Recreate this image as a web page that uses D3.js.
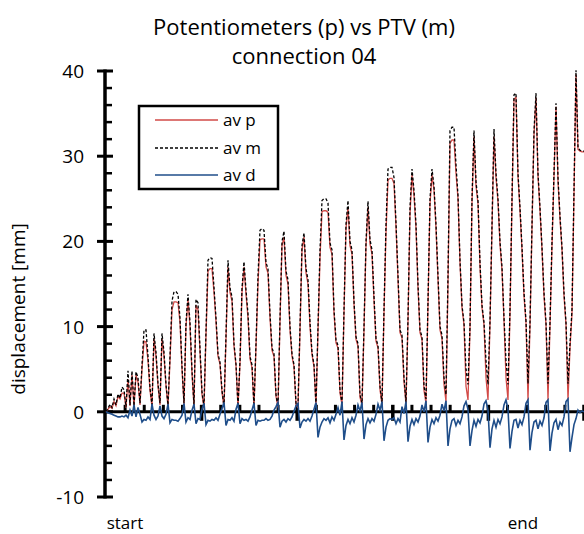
<!DOCTYPE html>
<html>
<head>
<meta charset="utf-8">
<script src="https://cdn.jsdelivr.net/npm/d3@7"></script>
<style>
    body { margin: 0; background: #fff; }
    svg text { font-family: 'Open Sans', 'DejaVu Sans', sans-serif; fill: #000; }
</style>
</head>
<body>
<svg id="chart" width="584" height="534"></svg>
<script>
/* Potentiometers vs PTV, connection 04 */

// av m (PTV), one value per sample
const avM = [
    0, 0.4, 0.9, 0.5, 1.5, 0.8, 2.1, 1.6, 2.9, 2.6,
    0.6, 4.8, 0.8, 4.8, 0.7, 4.7, 4.0, 1.0, 5.5, 9.6,
    9.6, 6.5, 2.8, 0.8, 9.2, 7.0, 3.3, 1.0, 9.2, 7.0,
    3.2, 0.8, 6.5, 13.0, 14.1, 14.1, 13.8, 11.0, 5.3, 1.0,
    10.5, 13.8, 10.5, 4.8, 0.8, 13.2, 12.8, 7.4, 2.3, 0.7,
    9.5, 17.8, 18.1, 18.0, 14.6, 11.0, 6.8, 5.8, 2.5, 0.6,
    9.0, 17.8, 14.5, 13.5, 8.0, 5.6, 0.6, 6.0, 14.5, 17.6,
    14.3, 11.5, 6.5, 5.5, 0.6, 8.0, 16.0, 21.3, 21.5, 21.3,
    17.5, 16.8, 11.5, 7.5, 6.8, 2.0, 0.6, 11.0, 20.0, 21.2,
    16.5, 15.5, 10.0, 6.8, 5.5, 1.0, 0.7, 10.0, 19.5, 21.0,
    16.8, 15.5, 10.5, 7.0, 5.5, 0.8, 10.0, 19.0, 24.8, 25.0,
    25.0, 24.5, 19.8, 19.0, 12.0, 8.4, 7.8, 2.5, 1.0, 12.0,
    22.0, 24.8, 20.0, 19.0, 13.0, 8.8, 8.0, 2.0, 1.0, 10.0,
    20.0, 24.7, 20.2, 19.0, 13.5, 8.6, 7.8, 3.0, 1.0, 12.0,
    22.0, 28.5, 28.7, 28.7, 27.5, 22.2, 16.0, 9.6, 9.0, 4.0,
    1.1, 11.0, 24.0, 28.5, 26.0, 22.0, 15.0, 9.6, 8.8, 3.0,
    1.5, 13.0, 25.0, 28.5, 26.5, 22.0, 16.0, 10.0, 9.0, 4.0,
    2.0, 16.0, 33.0, 33.4, 33.4, 29.0, 25.4, 17.8, 12.5, 10.5,
    5.0, 3.2, 10.0, 25.0, 33.0, 27.0, 24.8, 17.5, 12.5, 10.5,
    6.0, 3.2, 10.7, 22.0, 33.2, 28.0, 25.0, 20.0, 17.0, 11.0,
    6.0, 3.2, 12.0, 25.0, 37.2, 37.4, 28.0, 24.0, 19.3, 14.0,
    10.7, 3.3, 10.5, 22.0, 33.0, 37.4, 28.0, 24.0, 19.3, 14.0,
    10.5, 3.3, 10.5, 20.0, 28.0, 36.2, 27.5, 23.0, 19.3, 14.0,
    10.5, 3.3, 8.0, 12.0, 26.0, 40.1, 31.0, 30.7, 30.6, 30.6
];

// av p (potentiometers)
const avP = [
    0, 0.3, 0.6, 0.4, 1.2, 0.7, 1.8, 1.5, 2.2, 2.2,
    0.5, 3.8, 0.7, 4.3, 0.6, 4.3, 3.5, 0.8, 5.0, 8.3,
    8.2, 6.0, 2.5, 0.6, 8.6, 6.5, 3.0, 0.8, 8.6, 6.5,
    3.0, 0.6, 6.0, 12.0, 12.9, 12.9, 12.8, 10.5, 5.0, 0.8,
    10.0, 13.2, 10.0, 4.5, 0.6, 12.5, 12.0, 7.0, 2.0, 0.5,
    9.0, 16.5, 16.8, 16.8, 14.0, 10.6, 6.5, 5.6, 2.3, 0.5,
    8.6, 17.0, 14.0, 13.0, 7.7, 5.4, 0.5, 5.7, 14.0, 17.0,
    13.8, 11.0, 6.2, 5.2, 0.5, 7.6, 15.0, 20.2, 20.3, 20.3,
    17.0, 16.3, 11.0, 7.2, 6.5, 1.8, 0.5, 10.5, 19.5, 20.5,
    16.0, 15.0, 9.6, 6.5, 5.3, 0.8, 0.5, 9.5, 19.0, 20.5,
    16.3, 15.0, 10.0, 6.7, 5.3, 0.6, 9.5, 18.0, 23.5, 23.6,
    23.6, 23.4, 19.3, 18.5, 11.6, 8.1, 7.5, 2.2, 0.8, 11.5,
    21.5, 24.0, 19.5, 18.5, 12.6, 8.5, 7.7, 1.7, 0.8, 9.5,
    19.5, 24.0, 19.7, 18.5, 13.0, 8.3, 7.5, 2.6, 0.8, 11.5,
    21.0, 27.2, 27.4, 27.4, 26.8, 21.7, 15.5, 9.3, 8.7, 3.5,
    0.9, 10.5, 23.2, 27.8, 25.4, 21.5, 14.5, 9.3, 8.5, 2.5,
    1.0, 12.5, 24.4, 27.8, 26.0, 21.5, 15.5, 9.6, 8.6, 3.2,
    1.2, 15.0, 31.5, 31.9, 31.9, 28.0, 25.0, 17.5, 12.2, 10.2,
    3.0, 1.4, 9.6, 24.5, 32.3, 26.5, 24.4, 17.0, 12.2, 10.2,
    4.0, 1.4, 10.3, 21.5, 32.3, 27.5, 24.6, 19.6, 16.6, 10.7,
    4.0, 1.4, 11.5, 24.5, 36.7, 36.9, 27.6, 23.6, 19.0, 13.6,
    10.4, 1.4, 10.0, 21.5, 32.5, 36.9, 27.6, 23.6, 19.0, 13.6,
    10.2, 1.4, 10.0, 19.5, 27.5, 35.8, 27.0, 22.6, 19.0, 13.6,
    10.2, 1.4, 7.5, 11.5, 25.5, 39.6, 30.8, 30.6, 30.5, 30.5
];

// av d
const avD = [
    0, -0.1, -0.2, -0.3, -0.4, -0.5, -0.6, -0.6, -0.5, -0.6,
    -0.4, -0.7, 0.2, -0.5, 0.8, -0.6, 0.5, -0.3, -1.2, -0.9,
    -1.0, -0.6, -0.9, 0.9, -0.4, -0.9, -0.5, 0.7, -0.5, -0.8,
    -0.3, 0.9, -1.3, -0.9, -1.0, -1.0, -1.1, -0.8, -0.4, 1.0,
    -1.2, -0.7, -0.9, 0.2, 0.9, -1.4, -0.8, -0.9, 0.3, 1.0,
    -1.5, -1.0, -1.1, -0.9, -1.0, -0.7, -1.0, -0.3, 0.4, 1.1,
    -1.6, -0.9, -1.0, -0.7, -1.1, 0.3, 1.0, -1.4, -0.8, -1.0,
    -0.9, -1.1, -0.6, 0.2, 1.0, -1.6, -1.0, -1.1, -1.0, -1.0,
    -0.8, -1.0, -0.9, -0.5, 0.2, 0.6, 1.1, -1.8, -1.1, -0.9,
    -1.2, -0.8, -1.0, -0.6, 0.1, 0.7, 1.0, -1.9, -1.2, -0.9,
    -1.1, -0.8, -1.1, -0.5, 0.3, 1.1, -3.0, -1.8, -1.2, -0.8,
    -1.0, -0.7, -1.3, -0.6, -1.0, -0.3, 0.5, -0.4, 1.2, -3.3,
    -1.6, -0.9, -1.4, -0.7, -1.2, -0.4, 0.8, 0.1, 1.1, -3.2,
    -1.5, -0.8, -1.3, -0.8, -1.1, -0.3, 0.9, 0.2, 1.2, -3.4,
    -1.8, -1.0, -0.8, -0.9, -0.7, -1.4, -0.8, -1.2, 0.6, -0.2,
    1.2, -3.5, -1.7, -0.9, -1.5, -0.8, -1.2, -0.5, 0.8, 0.0,
    1.3, -3.6, -1.8, -0.9, -1.4, -0.7, -1.1, -0.4, 0.9, 0.1,
    1.3, -4.0, -2.0, -1.0, -0.8, -1.6, -1.0, -1.4, -0.6, 0.7,
    1.2, 0.3, -4.0, -2.2, -1.0, -1.7, -0.9, -1.3, -0.5, 0.9,
    1.3, 0.2, -4.2, -2.0, -1.0, -1.8, -0.9, -1.4, -0.6, 0.8,
    1.4, 0.3, -4.3, -2.3, -1.0, -0.9, -1.9, -1.0, -1.5, -0.6,
    1.0, 1.4, -4.5, -2.4, -1.2, -1.0, -2.0, -1.1, -1.6, -0.7,
    1.1, 1.4, -4.6, -2.5, -1.3, -0.9, -2.1, -1.2, -1.6, -0.6,
    1.2, 1.5, -4.7, -3.0, -1.5, -0.8, 0.2, -0.1, 0.1, 0.0
];

const yTicks = [-10, 0, 10, 20, 30, 40];
const xLabels = ['start', 'end'];
const xLabelAt = [9.5, 208.5];   // sample index under each category label
const seriesNames = ['av p', 'av m', 'av d'];

const svg = d3.select('#chart');
const n = avM.length;

const x = d3.scaleLinear().domain([0, n - 1]).range([106, 584]);
const y = d3.scaleLinear().domain([-10, 40]).range([497, 71]);

// Title
svg.append('text')
    .attr('x', 304).attr('y', 35)
    .attr('text-anchor', 'middle')
    .attr('font-size', 22)
    .text('Potentiometers (p) vs PTV (m)');
svg.append('text')
    .attr('x', 304).attr('y', 64)
    .attr('text-anchor', 'middle')
    .attr('font-size', 22)
    .text('connection 04');

// Y axis title
svg.append('text')
    .attr('transform', 'translate(25,309) rotate(-90)')
    .attr('text-anchor', 'middle')
    .attr('font-size', 19)
    .text('displacement [mm]');

// Y axis: thick line, crossing major ticks, inside minor ticks
const yAxis = svg.append('g');
yAxis.append('line')
    .attr('x1', 105).attr('x2', 105)
    .attr('y1', y(40) - 1.5).attr('y2', y(-10) + 1.5)
    .attr('stroke', '#000').attr('stroke-width', 3.5);
yAxis.selectAll('.major')
    .data(yTicks)
    .join('line')
    .attr('x1', 97).attr('x2', 113)
    .attr('y1', d => y(d)).attr('y2', d => y(d))
    .attr('stroke', '#000').attr('stroke-width', 3);
yAxis.selectAll('.minor')
    .data(d3.range(-10, 40, 2).filter(v => v % 10 !== 0))
    .join('line')
    .attr('x1', 105).attr('x2', 112)
    .attr('y1', d => y(d)).attr('y2', d => y(d))
    .attr('stroke', '#000').attr('stroke-width', 2.5);
yAxis.selectAll('text')
    .data(yTicks)
    .join('text')
    .attr('x', 84).attr('y', d => y(d) + 7)
    .attr('text-anchor', 'end')
    .attr('font-size', 19)
    .text(d => d);

// X axis at zero
const xAxis = svg.append('g');
xAxis.append('line')
    .attr('x1', 105).attr('x2', 584)
    .attr('y1', y(0)).attr('y2', y(0))
    .attr('stroke', '#000').attr('stroke-width', 3);
const xStep = (584 - 106) / 25;
xAxis.selectAll('line.tk')
    .data(d3.range(1, 26))
    .join('line')
    .attr('class', 'tk')
    .attr('x1', d => 106 + d * xStep).attr('x2', d => 106 + d * xStep)
    .attr('y1', y(0) - 7)
    .attr('y2', d => d % 5 === 0 ? y(0) + 9 : y(0))
    .attr('stroke', '#000')
    .attr('stroke-width', d => d % 5 === 0 ? 3.5 : 3);

svg.selectAll('.xlab')
    .data(xLabels)
    .join('text')
    .attr('class', 'xlab')
    .attr('x', (d, i) => x(xLabelAt[i]))
    .attr('y', 529)
    .attr('text-anchor', 'middle')
    .attr('font-size', 17)
    .text(d => d);

// Series
const line = d3.line()
    .x((d, i) => x(i))
    .y(d => y(d));

const plot = svg.append('g');
plot.append('path')
    .datum(avP)
    .attr('d', line)
    .attr('fill', 'none')
    .attr('stroke', '#d24a47')
    .attr('stroke-width', 1.3);
plot.append('path')
    .datum(avM)
    .attr('d', line)
    .attr('fill', 'none')
    .attr('stroke', '#000')
    .attr('stroke-width', 1.3)
    .attr('stroke-dasharray', '3,2');
plot.append('path')
    .datum(avD)
    .attr('d', line)
    .attr('fill', 'none')
    .attr('stroke', '#1f4e8a')
    .attr('stroke-width', 1.6);

// Legend
const legend = svg.append('g');
legend.append('rect')
    .attr('x', 139).attr('y', 106)
    .attr('width', 139).attr('height', 83)
    .attr('fill', '#fff')
    .attr('stroke', '#000').attr('stroke-width', 2.5);

const legendStyles = [
    { color: '#d24a47', dash: null, width: 1.3 },
    { color: '#000', dash: '3,2', width: 1.3 },
    { color: '#1f4e8a', dash: null, width: 1.6 }
];
const rowY = [120, 148, 175];

seriesNames.forEach((name, i) => {
    legend.append('line')
        .attr('x1', 155).attr('x2', 218)
        .attr('y1', rowY[i]).attr('y2', rowY[i])
        .attr('stroke', legendStyles[i].color)
        .attr('stroke-width', legendStyles[i].width)
        .attr('stroke-dasharray', legendStyles[i].dash);
    legend.append('text')
        .attr('x', 223).attr('y', rowY[i] + 6)
        .attr('font-size', 17)
        .text(name);
});
</script>
</body>
</html>
